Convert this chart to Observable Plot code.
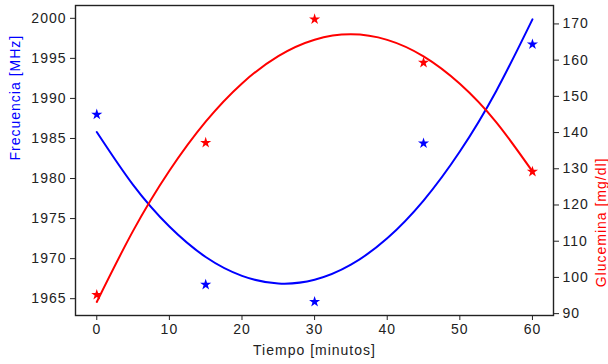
<!DOCTYPE html>
<html>
<head>
<meta charset="utf-8">
<script src="https://cdn.jsdelivr.net/npm/d3@7"></script>
<script src="https://cdn.jsdelivr.net/npm/@observablehq/plot@0.6"></script>
<style>
  html, body { margin: 0; padding: 0; background: white; }
</style>
</head>
<body>
<div id="chart"></div>
<script>
// Measured points
const tiempo = [0, 15, 30, 45, 60];
const frecuencia = [1988.0, 1966.75, 1964.6, 1984.4, 1996.75];
const glucemia = [95.2, 137.2, 171.3, 159.3, 129.2];

// Fitted curves (every 5 minutes)
const tiempoCurva = [0, 5, 10, 15, 20, 25, 30, 35, 40, 45, 50, 55, 60];
const frecuenciaCurva = [1985.8, 1979.2, 1974.0, 1970.2, 1967.85, 1966.9, 1967.36, 1969.24, 1972.54, 1977.25, 1983.37, 1990.9, 1999.87];
const glucemiaCurva = [93.23, 112.85, 129.45, 143.02, 153.58, 161.11, 165.63, 167.12, 165.59, 161.04, 153.47, 142.89, 129.27];

// Tick labels
const xTicks = [0, 10, 20, 30, 40, 50, 60];
const leftTicks = [1965, 1970, 1975, 1980, 1985, 1990, 1995, 2000];
const rightTicks = [90, 100, 110, 120, 130, 140, 150, 160, 170];

// Right axis (mg/dl) mapped onto the left axis (MHz)
const k = 0.45209;
const toLeft = g => 1999.3 - (170 - g) * k;
const fromLeft = v => 170 - (1999.3 - v) / k;

const pts = tiempo.map((t, i) => ({t, f: frecuencia[i], g: toLeft(glucemia[i])}));
const curva = tiempoCurva.map((t, i) => ({t, f: frecuenciaCurva[i], g: toLeft(glucemiaCurva[i])}));

const chart = Plot.plot({
  width: 608,
  height: 364,
  marginLeft: 75,
  marginRight: 55,
  marginTop: 5,
  marginBottom: 49,
  style: {fontFamily: "'Liberation Sans', Arial, sans-serif", fontSize: "14px", color: "#222", background: "white", letterSpacing: "1px"},
  x: {domain: [-2.93, 62.9]},
  y: {domain: [1962.9, 2001.6]},
  marks: [
    Plot.line(curva, {x: "t", y: "f", stroke: "#0000ff", strokeWidth: 2, curve: "natural"}),
    Plot.line(curva, {x: "t", y: "g", stroke: "#ff0000", strokeWidth: 2, curve: "natural"}),
    Plot.dot(pts, {x: "t", y: "f", symbol: "star", fill: "#0000ff", r: 3.5}),
    Plot.dot(pts, {x: "t", y: "g", symbol: "star", fill: "#ff0000", r: 3.5}),
    Plot.frame({stroke: "#222", strokeWidth: 1.4}),
    Plot.axisX(xTicks, {tickSize: 5, tickPadding: 4, label: null}),
    Plot.axisY(leftTicks, {anchor: "left", tickSize: 5, tickPadding: 4, label: null, tickFormat: d => String(d)}),
    Plot.axisY(rightTicks.map(toLeft), {anchor: "right", tickSize: 5, tickPadding: 4, label: null, tickFormat: v => String(Math.round(fromLeft(v)))}),
    Plot.text(["Frecuencia [MHz]"], {frameAnchor: "left", dx: -60, rotate: -90, fill: "#0000ff", fontSize: 14}),
    Plot.text(["Glucemina [mg/dl]"], {frameAnchor: "right", dx: 48, dy: -3, rotate: -90, fill: "#ff0000", fontSize: 14}),
    Plot.text(["Tiempo [minutos]"], {frameAnchor: "bottom", dy: 39, fill: "#222", fontSize: 14})
  ]
});
document.getElementById("chart").appendChild(chart);
</script>
</body>
</html>
